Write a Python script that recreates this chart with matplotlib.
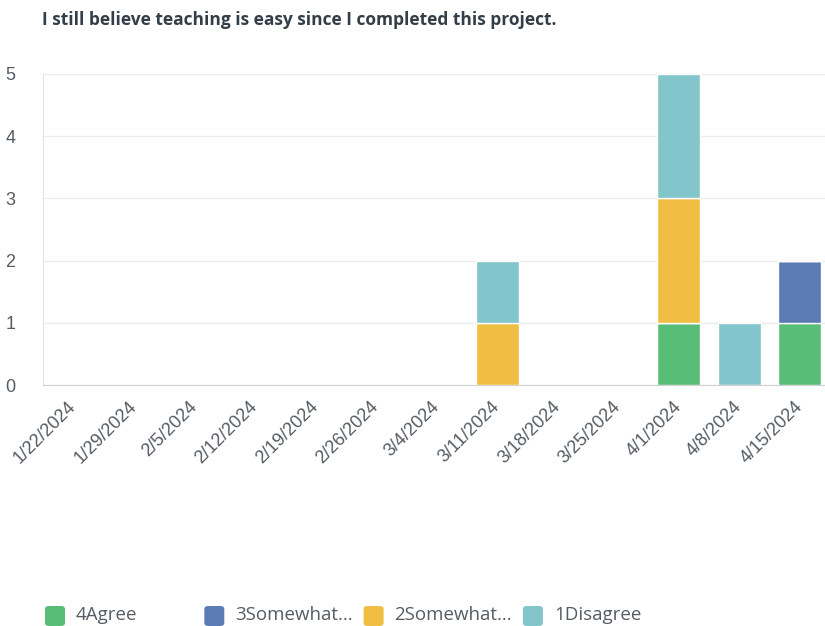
import matplotlib.pyplot as plt
from matplotlib.patches import FancyBboxPatch
import numpy as np

# Weekly response counts per answer option
dates = ['1/22/2024', '1/29/2024', '2/5/2024', '2/12/2024', '2/19/2024', '2/26/2024',
         '3/4/2024', '3/11/2024', '3/18/2024', '3/25/2024', '4/1/2024', '4/8/2024', '4/15/2024']
agree4 = [0, 0, 0, 0, 0, 0, 0, 0, 0, 0, 1, 0, 1]
somewhat3 = [0, 0, 0, 0, 0, 0, 0, 0, 0, 0, 0, 0, 1]
somewhat2 = [0, 0, 0, 0, 0, 0, 0, 1, 0, 0, 2, 0, 0]
disagree1 = [0, 0, 0, 0, 0, 0, 0, 1, 0, 0, 2, 1, 0]

labels = ['4Agree', '3Somewhat...', '2Somewhat...', '1Disagree']
series = [agree4, somewhat3, somewhat2, disagree1]
colors = ['#58bd77', '#5a7bb3', '#efbe42', '#82c5cb']
txt_color = '#555c63'

fig = plt.figure(figsize=(8.25, 6.26), dpi=100)
ax = fig.add_axes([43 / 825, 241 / 626, 787 / 825, 311 / 626])

x = np.arange(len(dates))
bottom = np.zeros(len(dates))
for vals, c in zip(series, colors):
    ax.bar(x, vals, width=0.71, bottom=bottom, color=c, edgecolor='white', linewidth=1, zorder=3)
    bottom += np.array(vals)

ax.set_xlim(-0.5, len(dates) - 0.5)
ax.set_ylim(0, 5)
ax.set_yticks(range(6))
ax.set_xticks(x)
ax.set_xticklabels(dates, rotation=45, ha='right', va='center', rotation_mode='anchor',
                   fontsize=13, color=txt_color, family='Liberation Sans')
for t in ax.get_yticklabels():
    t.set_fontsize(13)
    t.set_color(txt_color)
    t.set_family('Liberation Sans')
ax.tick_params(axis='y', length=0, pad=20)
ax.tick_params(axis='x', length=0, pad=14)
ax.grid(axis='y', color='#ececec', linewidth=1, zorder=0)
for s in ['top', 'right']:
    ax.spines[s].set_visible(False)
ax.spines['left'].set_color('#e3e3e3')
ax.spines['bottom'].set_color('#d0d0d0')

fig.text(42 / 825, 1 - 20 / 626, 'I still believe teaching is easy since I completed this project.',
         fontsize=12.5, fontweight='bold', color='#333e48', family='Open Sans', va='center')

# Legend along the bottom
for i, (lab, c) in enumerate(zip(labels, colors)):
    lx = (45 + i * 159.3) / 825
    fig.patches.append(FancyBboxPatch((lx, 1 - 626 / 626), 20 / 825, 20 / 626,
                                      boxstyle='round,pad=0,rounding_size=0.005',
                                      transform=fig.transFigure, facecolor=c, edgecolor='none'))
    fig.text(lx + 31 / 825, 1 - 615 / 626, lab, fontsize=13.5, color=txt_color,
             family='Open Sans', va='center')

fig.savefig('out.png', dpi=100)
